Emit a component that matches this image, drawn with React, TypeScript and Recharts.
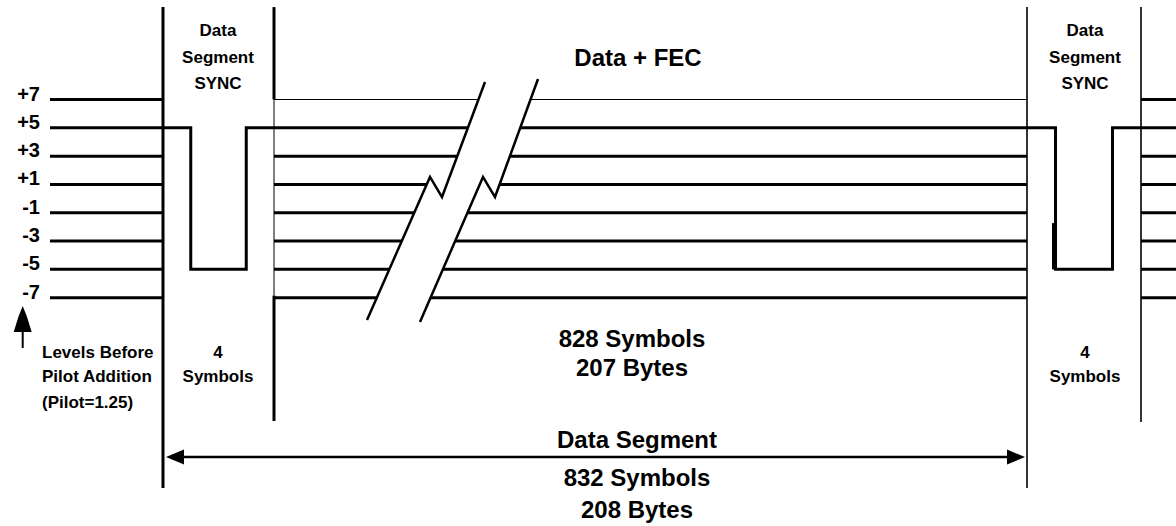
import React from 'react';
import { LineChart, Line, XAxis, YAxis, ReferenceLine, ReferenceDot } from 'recharts';

// 8-VSB symbol levels and their labels
const LEVELS = [7, 5, 3, 1, -1, -3, -5, -7];
const LEVEL_LABELS = ['+7', '+5', '+3', '+1', '-1', '-3', '-5', '-7'];
// the four segment sync symbols
const SYNC_SYMBOLS = [5, -5, -5, 5];

const SYNC_TITLE = ['Data', 'Segment', 'SYNC'];
const SYNC_COUNT = ['4', 'Symbols'];
const DATA_TITLE = ['Data + FEC'];
const DATA_COUNT = ['828 Symbols', '207 Bytes'];
const SEGMENT_COUNT = ['Data Segment', '832 Symbols', '208 Bytes'];
const LEVEL_NOTE = ['Levels Before', 'Pilot Addition', '(Pilot=1.25)'];

// layout (x in diagram units, y in level units)
const W = 1176;
const H = 526;
const Y_DOMAIN = [-23.13, 14.03];
const X_LEFT = 50;
const X_RIGHT = 1176;
const SYNC_1 = [163, 274];
const SYNC_2 = [1027, 1141];
const TOP = 13.53;
const BREAK_A = [[367, -8.58], [430, 1.53], [442, 0.11], [485, 8.24]];
const BREAK_B = [[420, -8.72], [483, 1.53], [495, 0.11], [538, 8.45]];

const INK = '#000';
const FONT = '"Liberation Sans", Arial, sans-serif';

type Seg = { x1: number; y1: number; x2: number; y2: number; w: number };

const crossings = (poly: number[][], v: number) => {
  const xs: number[] = [];
  for (let i = 0; i < poly.length - 1; i++) {
    const [x1, y1] = poly[i];
    const [x2, y2] = poly[i + 1];
    if (y1 !== y2 && (v - y1) * (v - y2) <= 0) xs.push(x1 + ((v - y1) / (y2 - y1)) * (x2 - x1));
  }
  return xs;
};

const syncPulse = ([x0, x1]: number[]) => {
  const w = (x1 - x0) / SYNC_SYMBOLS.length;
  return SYNC_SYMBOLS.flatMap((v, i) => [
    { x: x0 + i * w, y: v },
    { x: x0 + (i + 1) * w, y: v },
  ]);
};

const buildSegments = (): Seg[] => {
  const segs: Seg[] = [];
  LEVELS.forEach((v) => {
    const thin = v === 7;
    segs.push({ x1: X_LEFT, y1: v, x2: SYNC_1[0], y2: v, w: 3 });
    if (v !== 5) segs.push({ x1: SYNC_2[1], y1: v, x2: X_RIGHT, y2: v, w: 3 });
    segs.push({ x1: SYNC_1[1], y1: v, x2: Math.min(...crossings(BREAK_A, v)), y2: v, w: thin ? 1 : 3 });
    segs.push({ x1: Math.max(...crossings(BREAK_B, v)), y1: v, x2: SYNC_2[0], y2: v, w: thin ? 1 : 3 });
  });
  segs.push({ x1: SYNC_2[1], y1: 5, x2: X_RIGHT, y2: 5, w: 3 });
  // verticals
  segs.push({ x1: SYNC_1[0], y1: TOP, x2: SYNC_1[0], y2: -20.44, w: 3 });
  segs.push({ x1: SYNC_1[1], y1: TOP, x2: SYNC_1[1], y2: 7, w: 3 });
  segs.push({ x1: SYNC_1[1], y1: 7, x2: SYNC_1[1], y2: -6.85, w: 1 });
  segs.push({ x1: SYNC_1[1], y1: -6.85, x2: SYNC_1[1], y2: -15.71, w: 3 });
  segs.push({ x1: SYNC_2[0], y1: TOP, x2: SYNC_2[0], y2: -20.44, w: 1.6 });
  segs.push({ x1: SYNC_2[1], y1: TOP, x2: SYNC_2[1], y2: -15.78, w: 1.6 });
  // small stray stroke beside the second sync pulse
  segs.push({ x1: 1053.5, y1: -1.73, x2: 1053.5, y2: -5, w: 3 });
  // data segment arrow shaft
  segs.push({ x1: 175, y1: -18.26, x2: 1015, y2: -18.26, w: 2.5 });
  // level arrow shaft
  segs.push({ x1: 22.7, y1: -8.8, x2: 22.7, y2: -10.55, w: 2 });
  return segs;
};

const textShape = (text: string, size: number, anchor: 'start' | 'middle' | 'end' = 'middle') =>
  (p: any) => (
    <text
      x={p.cx}
      y={p.cy}
      textAnchor={anchor}
      dominantBaseline="central"
      fontFamily={FONT}
      fontSize={size}
      fontWeight="bold"
      fill={INK}
    >
      {text}
    </text>
  );

const arrowShape = (dir: 'left' | 'right' | 'up') => (p: any) => {
  const { cx, cy } = p;
  let pts = '';
  if (dir === 'left') pts = `${cx},${cy} ${cx + 18},${cy - 7.5} ${cx + 18},${cy + 7.5}`;
  if (dir === 'right') pts = `${cx},${cy} ${cx - 18},${cy - 7.5} ${cx - 18},${cy + 7.5}`;
  if (dir === 'up') pts = `${cx},${cy} ${cx + 4},${cy + 10} ${cx + 9},${cy + 26} ${cx - 9},${cy + 26} ${cx - 4},${cy + 10}`;
  return <polygon points={pts} fill={INK} />;
};

const Diagram = () => {
  const segs = buildSegments();
  const lines: { x: number; y: number }[][] = [
    syncPulse(SYNC_1),
    syncPulse(SYNC_2),
    BREAK_A.map(([x, y]) => ({ x, y })),
    BREAK_B.map(([x, y]) => ({ x, y })),
  ];
  const texts: { t: string; x: number; y: number; s: number; a?: 'start' | 'middle' | 'end' }[] = [];
  const syncRows = [11.91, 9.94, 8.13];
  SYNC_TITLE.forEach((t, i) => {
    texts.push({ t, x: 218, y: syncRows[i], s: 17 });
    texts.push({ t, x: 1085, y: syncRows[i], s: 17 });
  });
  const countRows = [-10.84, -12.6];
  SYNC_COUNT.forEach((t, i) => {
    texts.push({ t, x: 218, y: countRows[i], s: 17 });
    texts.push({ t, x: 1085, y: countRows[i], s: 17 });
  });
  LEVEL_NOTE.forEach((t, i) => texts.push({ t, x: 42, y: [-10.84, -12.6, -14.37][i], s: 17, a: 'start' }));
  DATA_TITLE.forEach((t) => texts.push({ t, x: 638, y: 9.94, s: 24 }));
  DATA_COUNT.forEach((t, i) => texts.push({ t, x: 632, y: [-9.85, -11.96][i], s: 24 }));
  SEGMENT_COUNT.forEach((t, i) => texts.push({ t, x: 637, y: [-17.05, -19.73, -21.99][i], s: 24 }));
  LEVELS.forEach((v, i) => texts.push({ t: LEVEL_LABELS[i], x: 40, y: v + 0.42, s: 20, a: 'end' }));

  return (
    <LineChart width={W} height={H} margin={{ top: 0, right: 0, bottom: 0, left: 0 }}>
      <XAxis type="number" dataKey="x" domain={[0, W]} hide allowDataOverflow />
      <YAxis type="number" dataKey="y" domain={Y_DOMAIN} hide allowDataOverflow />
      {segs.map((s, i) => (
        <ReferenceLine
          key={`seg-${i}`}
          segment={[{ x: s.x1, y: s.y1 }, { x: s.x2, y: s.y2 }]}
          stroke={INK}
          strokeWidth={s.w}
          ifOverflow="visible"
        />
      ))}
      {lines.map((d, i) => (
        <Line
          key={`poly-${i}`}
          data={d}
          dataKey="y"
          type="linear"
          stroke={INK}
          strokeWidth={i < 2 ? 3 : 2.5}
          dot={false}
          activeDot={false}
          isAnimationActive={false}
        />
      ))}
      <ReferenceDot x={166} y={-18.26} r={1} ifOverflow="visible" shape={arrowShape('left')} />
      <ReferenceDot x={1025} y={-18.26} r={1} ifOverflow="visible" shape={arrowShape('right')} />
      <ReferenceDot x={22.7} y={-7.59} r={1} ifOverflow="visible" shape={arrowShape('up')} />
      {texts.map((t, i) => (
        <ReferenceDot key={`txt-${i}`} x={t.x} y={t.y} r={1} ifOverflow="visible" shape={textShape(t.t, t.s, t.a)} />
      ))}
    </LineChart>
  );
};

export default function App() {
  return (
    <div style={{ position: 'absolute', left: 0, top: 0, width: W, height: H, background: '#fff' }}>
      <Diagram />
    </div>
  );
}
